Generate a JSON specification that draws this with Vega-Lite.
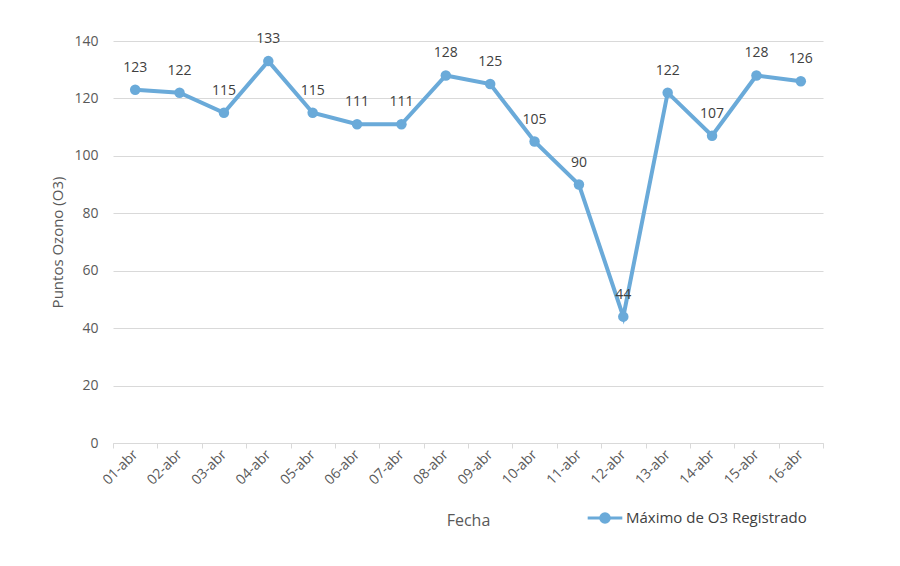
{
  "$schema": "https://vega.github.io/schema/vega-lite/v6.json",
  "width": 710,
  "height": 402,
  "autosize": "none",
  "padding": {"left": 113, "top": 41, "right": 77, "bottom": 123},
  "background": "white",
  "config": {
    "view": {"stroke": null},
    "font": "Open Sans",
    "axis": {"labelColor": "#595959", "titleColor": "#595959", "labelFont": "Open Sans", "titleFont": "Open Sans", "titleFontWeight": "normal"}
  },
  "data": {
    "values": [
      {"fecha": "01-abr", "valor": 123, "serie": "Máximo de O3 Registrado"},
      {"fecha": "02-abr", "valor": 122, "serie": "Máximo de O3 Registrado"},
      {"fecha": "03-abr", "valor": 115, "serie": "Máximo de O3 Registrado"},
      {"fecha": "04-abr", "valor": 133, "serie": "Máximo de O3 Registrado"},
      {"fecha": "05-abr", "valor": 115, "serie": "Máximo de O3 Registrado"},
      {"fecha": "06-abr", "valor": 111, "serie": "Máximo de O3 Registrado"},
      {"fecha": "07-abr", "valor": 111, "serie": "Máximo de O3 Registrado"},
      {"fecha": "08-abr", "valor": 128, "serie": "Máximo de O3 Registrado"},
      {"fecha": "09-abr", "valor": 125, "serie": "Máximo de O3 Registrado"},
      {"fecha": "10-abr", "valor": 105, "serie": "Máximo de O3 Registrado"},
      {"fecha": "11-abr", "valor": 90, "serie": "Máximo de O3 Registrado"},
      {"fecha": "12-abr", "valor": 44, "serie": "Máximo de O3 Registrado"},
      {"fecha": "13-abr", "valor": 122, "serie": "Máximo de O3 Registrado"},
      {"fecha": "14-abr", "valor": 107, "serie": "Máximo de O3 Registrado"},
      {"fecha": "15-abr", "valor": 128, "serie": "Máximo de O3 Registrado"},
      {"fecha": "16-abr", "valor": 126, "serie": "Máximo de O3 Registrado"}
    ]
  },
  "encoding": {
    "x": {
      "field": "fecha",
      "type": "ordinal",
      "sort": null,
      "scale": {"type": "band", "paddingInner": 0, "paddingOuter": 0},
      "axis": {
        "title": "Fecha",
        "titleFontSize": 16,
        "titleY": 77,
        "titleBaseline": "middle",
        "labelAngle": -45,
        "labelAlign": "right",
        "labelBaseline": "middle",
        "labelFontSize": 14,
        "labelPadding": 4,
        "tickBand": "extent",
        "tickColor": "#D9D9D9",
        "tickSize": 5,
        "domainColor": "#D9D9D9",
        "grid": false
      }
    },
    "y": {
      "field": "valor",
      "type": "quantitative",
      "scale": {"domain": [0, 140]},
      "axis": {
        "title": "Puntos Ozono (O3)",
        "titleFontSize": 15,
        "titleX": -56,
        "titleBaseline": "middle",
        "values": [0, 20, 40, 60, 80, 100, 120, 140],
        "labelFontSize": 14,
        "labelPadding": 15,
        "domain": false,
        "ticks": false,
        "gridColor": "#D9D9D9"
      }
    }
  },
  "layer": [
    {
      "mark": {"type": "line", "strokeWidth": 4, "point": {"size": 110, "filled": true}},
      "encoding": {
        "color": {
          "field": "serie",
          "type": "nominal",
          "scale": {"range": ["#6AAAD9"]},
          "legend": {
            "title": null,
            "orient": "none",
            "legendX": 473,
            "legendY": 458,
            "labelFontSize": 15,
            "labelColor": "#404040",
            "labelFont": "Open Sans",
            "labelLimit": 400,
            "symbolType": "M-1,0H1M-0.25,0A0.25,0.25 0 1 1 0.25,0A0.25,0.25 0 1 1 -0.25,0Z",
            "symbolSize": 1200,
            "symbolStrokeWidth": 3,
            "symbolFillColor": "#6AAAD9",
            "symbolStrokeColor": "#6AAAD9",
            "labelOffset": 2
          }
        }
      }
    },
    {
      "mark": {"type": "text", "dy": -22, "fontSize": 14, "color": "#404040", "font": "Open Sans"},
      "encoding": {"text": {"field": "valor", "type": "quantitative"}}
    }
  ]
}
